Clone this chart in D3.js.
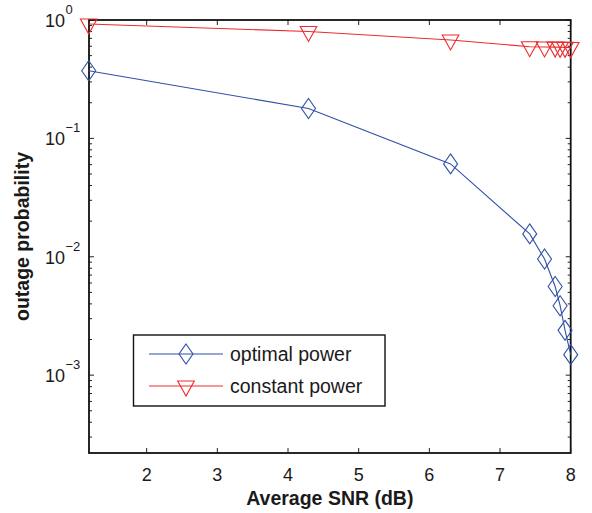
<!DOCTYPE html>
<html>
<head>
<meta charset="utf-8">
<script src="https://cdn.jsdelivr.net/npm/d3@7"></script>
<style>
  body { margin: 0; background: #fff; }
  text { font-family: Arial, "Liberation Sans", Helvetica, sans-serif; fill: #1a1a1a; }
</style>
</head>
<body>
<div id="chart"></div>
<script>
// values
const snr = [1.18, 4.29, 6.30, 7.42, 7.63, 7.78, 7.85, 7.92, 8.0];
const optimalPower = [0.373, 0.179, 0.0609, 0.0156, 0.00957, 0.00561, 0.00386, 0.00239, 0.00149];
const constantPower = [0.925, 0.80, 0.678, 0.595, 0.592, 0.590, 0.588, 0.587, 0.585];
const xTicks = [2, 3, 4, 5, 6, 7, 8];
const yTicks = [0, -1, -2, -3]; // exponents of ten
const seriesNames = ['optimal power', 'constant power'];

const width = 592, height = 513;
const plotLeft = 89, plotRight = 570.7, plotTop = 20, plotBottom = 453;
const blue = '#3050a8', red = '#ee2a2e';

const svg = d3.select('#chart')
  .append('svg')
  .attr('width', width)
  .attr('height', height);

const xScale = d3.scaleLinear().domain([1.184, 8]).range([plotLeft, plotRight]);
const yScale = d3.scaleLog().domain([2.2e-4, 1]).range([plotBottom, plotTop]);

// minor ticks on the log axis
const minor = [];
for (let e = -4; e < 0; e++) {
  for (let m = 2; m <= 9; m++) {
    const v = m * Math.pow(10, e);
    if (v >= 2.2e-4 && v < 1) minor.push(v);
  }
}

const grid = svg.append('g');
// left and right ticks
[plotLeft, plotRight].forEach((xx, i) => {
  const dir = i === 0 ? 1 : -1;
  grid.selectAll(null).data(yTicks).enter().append('line')
    .attr('x1', xx).attr('x2', xx + dir * 5)
    .attr('y1', d => yScale(Math.pow(10, d))).attr('y2', d => yScale(Math.pow(10, d)))
    .attr('stroke', '#222').attr('stroke-width', 1);
  grid.selectAll(null).data(minor).enter().append('line')
    .attr('x1', xx).attr('x2', xx + dir * 3)
    .attr('y1', d => yScale(d)).attr('y2', d => yScale(d))
    .attr('stroke', '#222').attr('stroke-width', 1);
});
// bottom and top ticks
[plotBottom, plotTop].forEach((yy, i) => {
  const dir = i === 0 ? -1 : 1;
  grid.selectAll(null).data(xTicks).enter().append('line')
    .attr('x1', d => xScale(d)).attr('x2', d => xScale(d))
    .attr('y1', yy).attr('y2', yy + dir * 5)
    .attr('stroke', '#222').attr('stroke-width', 1);
});

// box
svg.append('rect')
  .attr('x', plotLeft).attr('y', plotTop)
  .attr('width', plotRight - plotLeft).attr('height', plotBottom - plotTop)
  .attr('fill', 'none').attr('stroke', '#111').attr('stroke-width', 1.8);

// x tick labels
svg.append('g').selectAll('text').data(xTicks).enter().append('text')
  .attr('x', d => xScale(d)).attr('y', 481)
  .attr('text-anchor', 'middle')
  .style('font-size', '18px')
  .text(d => d);

// y tick labels 10^e
const yl = svg.append('g').selectAll('g').data(yTicks).enter().append('g')
  .attr('transform', d => 'translate(0,' + yScale(Math.pow(10, d)) + ')');
yl.append('text')
  .attr('x', 65).attr('y', 7)
  .attr('text-anchor', 'end')
  .style('font-size', '18px')
  .text('10');
yl.append('text')
  .attr('x', 65.5).attr('y', -6)
  .style('font-size', '13px')
  .text(d => d === 0 ? '0' : '\u2212' + Math.abs(d));

// axis titles
svg.append('text')
  .attr('x', (plotLeft + plotRight) / 2).attr('y', 505)
  .attr('text-anchor', 'middle')
  .style('font-size', '19.5px').style('font-weight', 'bold')
  .text('Average SNR (dB)');
svg.append('text')
  .attr('transform', 'translate(29,' + (plotTop + plotBottom) / 2 + ') rotate(-90)')
  .attr('text-anchor', 'middle')
  .style('font-size', '19.5px').style('font-weight', 'bold')
  .text('outage probability');

// markers
function diamond(g, color) {
  g.append('path').attr('d', 'M0,-10L7,0L0,10L-7,0Z')
    .attr('fill', 'none').attr('stroke', color).attr('stroke-width', 1.1);
}
function triangle(g, color) {
  g.append('path').attr('d', 'M-8.3,-5L8.3,-5L0,10Z')
    .attr('fill', 'none').attr('stroke', color).attr('stroke-width', 1.1);
}

const line = d3.line()
  .x(d => xScale(d[0]))
  .y(d => yScale(d[1]));

const series = [
  { values: optimalPower, color: blue, marker: diamond },
  { values: constantPower, color: red, marker: triangle }
];

series.forEach(s => {
  const pts = snr.map((x, i) => [x, s.values[i]]);
  svg.append('path').datum(pts)
    .attr('d', line)
    .attr('fill', 'none').attr('stroke', s.color).attr('stroke-width', 1.1);
  svg.append('g').selectAll('g').data(pts).enter().append('g')
    .attr('transform', d => 'translate(' + xScale(d[0]) + ',' + yScale(d[1]) + ')')
    .each(function() { s.marker(d3.select(this), s.color); });
});

// legend
const legend = svg.append('g');
legend.append('rect')
  .attr('x', 133.5).attr('y', 335)
  .attr('width', 251.5).attr('height', 71)
  .attr('fill', '#fff').attr('stroke', '#111').attr('stroke-width', 1.4);
series.forEach((s, i) => {
  const yy = 354 + i * 32;
  legend.append('line')
    .attr('x1', 149).attr('x2', 223).attr('y1', yy).attr('y2', yy)
    .attr('stroke', s.color).attr('stroke-width', 1.1);
  const m = legend.append('g').attr('transform', 'translate(186,' + yy + ')');
  s.marker(m, s.color);
  legend.append('text')
    .attr('x', 230).attr('y', yy + 6.5)
    .style('font-size', '19.5px')
    .text(seriesNames[i]);
});
</script>
</body>
</html>
